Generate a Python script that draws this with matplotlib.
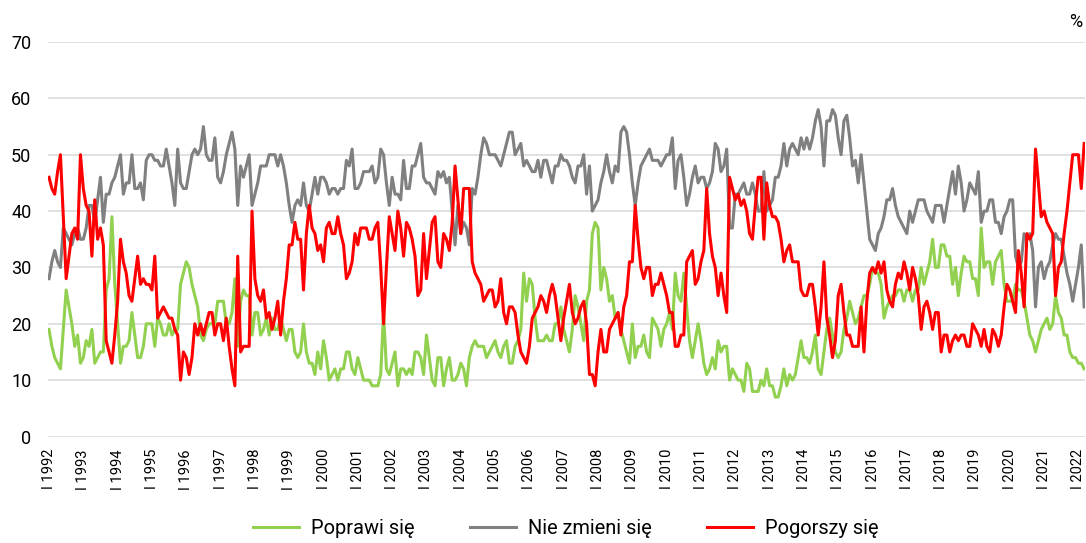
import numpy as np
import matplotlib
matplotlib.use('Agg')
import matplotlib.pyplot as plt

# monthly survey, I 1992 - III 2022, % of answers
poprawi = [
    19, 16, 14, 13, 12, 19, 26, 23, 20, 16,
    18, 13, 14, 17, 16, 19, 13, 14, 15, 15,
    26, 28, 39, 27, 20, 13, 16, 16, 17, 22,
    18, 14, 14, 16, 20, 20, 20, 16, 21, 20,
    18, 18, 20, 18, 19, 19, 27, 29, 31, 30,
    27, 25, 23, 18, 17, 19, 20, 20, 20, 24,
    24, 24, 20, 20, 22, 28, 16, 24, 26, 25,
    25, 18, 22, 22, 18, 19, 21, 18, 21, 19,
    19, 21, 19, 17, 19, 19, 15, 14, 15, 20,
    15, 13, 13, 11, 15, 12, 17, 14, 10, 11,
    12, 10, 12, 12, 15, 15, 12, 11, 14, 12,
    10, 10, 10, 9, 9, 9, 11, 22, 12, 11,
    13, 15, 9, 12, 12, 11, 12, 11, 15, 15,
    14, 11, 18, 14, 10, 9, 14, 14, 9, 12,
    14, 10, 10, 11, 13, 12, 9, 14, 16, 17,
    16, 16, 16, 14, 15, 16, 17, 15, 14, 16,
    17, 13, 13, 16, 17, 19, 29, 24, 28, 27,
    21, 17, 17, 17, 18, 17, 17, 20, 20, 23,
    19, 17, 15, 19, 25, 23, 20, 17, 24, 26,
    36, 38, 37, 26, 30, 28, 24, 25, 21, 22,
    19, 17, 15, 13, 20, 14, 16, 16, 18, 15,
    14, 21, 20, 19, 16, 19, 20, 22, 19, 29,
    25, 24, 29, 23, 17, 14, 17, 20, 17, 13,
    11, 12, 14, 12, 17, 15, 16, 16, 10, 12,
    11, 10, 10, 8, 13, 12, 8, 8, 8, 10,
    9, 12, 9, 9, 7, 7, 9, 12, 9, 11,
    10, 11, 14, 17, 14, 14, 13, 15, 18, 12,
    11, 15, 19, 21, 18, 15, 14, 15, 19, 21,
    24, 22, 20, 21, 23, 25, 25, 27, 30, 29,
    29, 27, 21, 23, 24, 25, 25, 26, 26, 24,
    26, 26, 24, 26, 26, 30, 27, 29, 31, 35,
    30, 30, 34, 34, 32, 32, 27, 30, 25, 29,
    32, 31, 31, 28, 28, 25, 37, 30, 31, 31,
    27, 31, 32, 33, 27, 24, 24, 24, 27, 26,
    26, 24, 21, 18, 17, 15, 17, 19, 20, 21,
    19, 20, 25, 22, 21, 18, 18, 15, 14, 14,
    13, 13, 12,
]

nie_zmieni = [
    28, 31, 33, 31, 30, 37, 36, 35, 34, 36,
    37, 35, 35, 37, 41, 41, 38, 42, 46, 38,
    43, 43, 45, 46, 48, 50, 43, 45, 45, 50,
    44, 44, 45, 42, 49, 50, 50, 49, 49, 48,
    48, 51, 48, 45, 41, 51, 45, 44, 44, 47,
    50, 51, 50, 51, 55, 50, 49, 49, 53, 46,
    45, 47, 50, 52, 54, 51, 41, 48, 46, 48,
    50, 41, 43, 45, 48, 48, 48, 50, 50, 50,
    48, 50, 48, 45, 41, 38, 41, 42, 41, 45,
    41, 40, 43, 46, 43, 46, 46, 45, 43, 44,
    44, 43, 44, 44, 49, 48, 51, 44, 44, 45,
    47, 47, 47, 48, 45, 46, 51, 50, 45, 41,
    46, 43, 43, 42, 49, 44, 44, 48, 48, 50,
    52, 46, 45, 45, 44, 43, 47, 46, 47, 45,
    46, 40, 34, 41, 36, 38, 37, 34, 44, 43,
    46, 50, 53, 52, 50, 50, 50, 49, 48, 50,
    52, 54, 54, 50, 51, 52, 48, 49, 48, 47,
    47, 49, 46, 49, 49, 47, 45, 48, 48, 50,
    49, 49, 48, 46, 45, 48, 48, 50, 43, 48,
    40, 41, 42, 45, 47, 50, 47, 45, 48, 47,
    54, 55, 54, 50, 45, 41, 45, 48, 49, 50,
    51, 49, 49, 49, 48, 49, 50, 50, 53, 44,
    49, 50, 46, 41, 43, 46, 48, 45, 46, 46,
    44, 45, 47, 52, 51, 47, 48, 51, 37, 37,
    43, 43, 44, 45, 43, 43, 45, 43, 40, 40,
    47, 40, 41, 42, 46, 46, 48, 52, 48, 51,
    52, 51, 50, 53, 51, 53, 51, 53, 56, 58,
    55, 48, 56, 56, 58, 57, 53, 50, 56, 57,
    53, 48, 49, 45, 50, 45, 40, 35, 34, 33,
    36, 37, 39, 42, 42, 44, 41, 39, 38, 37,
    36, 40, 38, 40, 42, 42, 42, 40, 39, 38,
    41, 41, 41, 38, 41, 44, 47, 43, 48, 45,
    40, 42, 45, 44, 43, 47, 38, 40, 40, 42,
    42, 38, 38, 36, 39, 40, 42, 42, 32, 30,
    31, 36, 35, 36, 33, 23, 30, 31, 28, 30,
    31, 34, 36, 35, 35, 32, 29, 27, 24, 27,
    30, 34, 23,
]

pogorszy = [
    46, 44, 43, 47, 50, 39, 28, 32, 36, 37,
    35, 50, 44, 41, 40, 32, 42, 35, 37, 34,
    17, 15, 13, 18, 24, 35, 31, 29, 25, 24,
    28, 32, 27, 28, 27, 27, 26, 32, 21, 22,
    23, 22, 21, 21, 19, 18, 10, 15, 14, 11,
    14, 20, 18, 20, 18, 20, 22, 22, 18, 20,
    20, 17, 21, 16, 12, 9, 32, 15, 16, 16,
    16, 40, 28, 25, 24, 26, 21, 22, 19, 21,
    24, 18, 24, 28, 34, 34, 38, 35, 35, 26,
    36, 41, 37, 36, 33, 34, 31, 37, 38, 36,
    36, 39, 36, 34, 28, 29, 31, 36, 34, 37,
    37, 37, 35, 35, 37, 38, 30, 20, 30, 39,
    36, 33, 40, 37, 32, 38, 37, 35, 32, 25,
    26, 36, 28, 33, 38, 39, 31, 30, 36, 35,
    33, 38, 48, 42, 36, 44, 44, 44, 31, 29,
    28, 27, 24, 25, 26, 26, 23, 24, 28, 22,
    20, 23, 23, 22, 18, 15, 14, 13, 16, 21,
    22, 23, 25, 24, 22, 25, 27, 25, 21, 17,
    21, 24, 27, 22, 20, 21, 23, 24, 20, 11,
    11, 9, 15, 19, 15, 15, 19, 20, 21, 22,
    18, 23, 25, 31, 31, 41, 35, 30, 28, 30,
    30, 25, 27, 27, 29, 27, 25, 22, 22, 16,
    16, 18, 18, 31, 32, 33, 27, 28, 31, 33,
    44, 36, 32, 30, 25, 29, 25, 22, 46, 44,
    42, 43, 41, 42, 40, 36, 35, 41, 46, 46,
    35, 45, 41, 39, 39, 38, 35, 31, 33, 34,
    31, 31, 31, 26, 25, 25, 27, 27, 23, 18,
    23, 31, 21, 18, 14, 17, 25, 27, 22, 18,
    18, 16, 16, 16, 23, 15, 24, 29, 30, 29,
    31, 29, 31, 26, 24, 23, 27, 29, 28, 31,
    29, 26, 30, 28, 25, 19, 23, 24, 22, 19,
    22, 22, 15, 18, 18, 15, 17, 18, 17, 18,
    18, 16, 16, 20, 19, 18, 16, 19, 16, 15,
    19, 18, 16, 18, 23, 27, 26, 24, 22, 33,
    29, 23, 36, 35, 36, 51, 45, 39, 40, 38,
    37, 36, 25, 30, 31, 36, 40, 45, 50, 50,
    50, 44, 52,
]

lata = ['I ' + str(r) for r in range(1992, 2023)]

if __name__ == '__main__':

    plt.rcParams['font.family'] = ['Roboto', 'DejaVu Sans']

    fig = plt.figure(figsize=(10.86, 5.43), dpi=100)
    ax = fig.add_axes([48 / 1086, 1 - 436.5 / 543, 1037 / 1086, 394.5 / 543])

    ax.plot(np.arange(len(poprawi)), poprawi, color='#92D050', lw=2.2, label='Poprawi się')
    ax.plot(np.arange(len(nie_zmieni)), nie_zmieni, color='#808080', lw=2.2, label='Nie zmieni się')
    ax.plot(np.arange(len(pogorszy)), pogorszy, color='#FF0000', lw=2.2, label='Pogorszy się')

    ax.set_ylim(0, 70)
    ax.set_yticks(np.arange(0, 71, 10))
    ax.set_xlim(-0.35, len(pogorszy) - 0.7)
    ax.set_xticks(np.arange(0, 12 * len(lata), 12))
    ax.set_xticklabels(lata, rotation=90, fontsize=10.5)
    ax.tick_params(axis='y', labelsize=13, length=0, pad=12)
    ax.tick_params(axis='x', length=0, pad=9)

    ax.grid(axis='y', color='#D9D9D9', lw=1.1)
    ax.set_axisbelow(True)
    for s in ax.spines.values():
        s.set_visible(False)

    fig.text(0.997, 0.96, '%', ha='right', va='center', fontsize=13)

    fig.legend(loc='center', bbox_to_anchor=(0.521, 0.027), ncol=3, frameon=False,
               fontsize=14.4, handlelength=2.3, handletextpad=0.6, columnspacing=2.75)

    fig.savefig('out.png', dpi=100)
